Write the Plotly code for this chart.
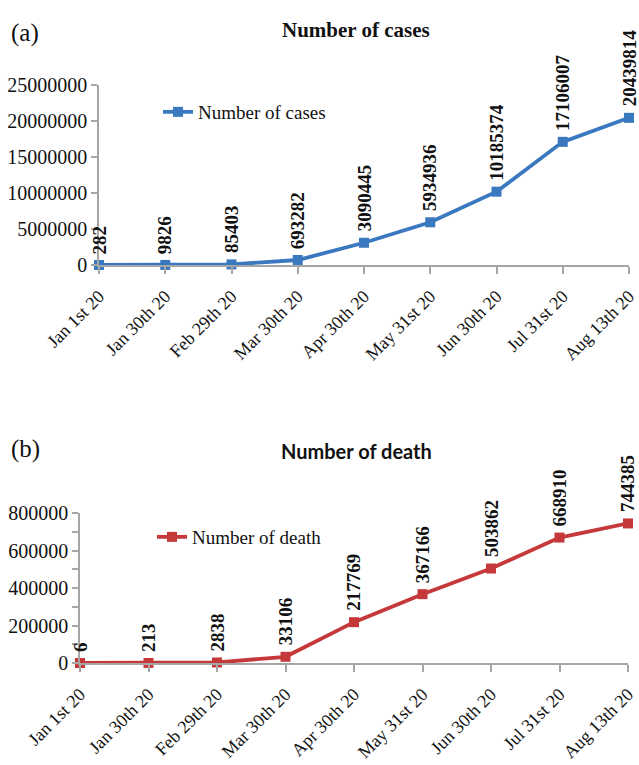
import plotly.graph_objects as go

# Monthly cumulative COVID-19 counts
dates = ["Jan 1st 20", "Jan 30th 20", "Feb 29th 20", "Mar 30th 20", "Apr 30th 20",
         "May 31st 20", "Jun 30th 20", "Jul 31st 20", "Aug 13th 20"]
cases = [282, 9826, 85403, 693282, 3090445, 5934936, 10185374, 17106007, 20439814]
deaths = [6, 213, 2838, 33106, 217769, 367166, 503862, 668910, 744385]

BLUE = "#3A78C0"
RED = "#C6393B"
AXIS_GRAY = "#A6A6A6"
SERIF = "Liberation Serif, Times New Roman, serif"
W, H = 639, 765

fig = go.Figure()

fig.add_trace(go.Scatter(
    x=dates, y=cases, mode="lines+markers", name="Number of cases",
    line=dict(color=BLUE, width=3.8),
    marker=dict(symbol="square", size=10, color=BLUE),
    cliponaxis=False, xaxis="x", yaxis="y", legend="legend",
))
fig.add_trace(go.Scatter(
    x=dates, y=deaths, mode="lines+markers", name="Number of death",
    line=dict(color=RED, width=3.8),
    marker=dict(symbol="square", size=10, color=RED),
    cliponaxis=False, xaxis="x2", yaxis="y2", legend="legend2",
))

annotations = []
# vertical value labels above each point
for xa, ya, vals in (("x", "y", cases), ("x2", "y2", deaths)):
    for i, v in enumerate(vals):
        annotations.append(dict(
            x=i, y=v, xref=xa, yref=ya, text=f"<b>{v}</b>", showarrow=False,
            textangle=-90, xanchor="center", yanchor="bottom", yshift=9,
            font=dict(family=SERIF, size=19, color="#111111"),
        ))

# panel letters and titles
annotations += [
    dict(x=9 / W, y=1 - 33 / H, xref="paper", yref="paper", text="(a)",
         showarrow=False, xanchor="left", yanchor="middle",
         font=dict(family=SERIF, size=25, color="#111111")),
    dict(x=9 / W, y=1 - 449 / H, xref="paper", yref="paper", text="(b)",
         showarrow=False, xanchor="left", yanchor="middle",
         font=dict(family=SERIF, size=25, color="#111111")),
    dict(x=356 / W, y=1 - 30 / H, xref="paper", yref="paper", text="<b>Number of cases</b>",
         showarrow=False, xanchor="center", yanchor="middle",
         font=dict(family=SERIF, size=21, color="#111111")),
    dict(x=356 / W, y=1 - 451 / H, xref="paper", yref="paper", text="<b>Number of death</b>",
         showarrow=False, xanchor="center", yanchor="middle",
         font=dict(family="Lato, Open Sans, sans-serif", size=20, color="#111111")),
]

xaxis_common = dict(
    type="category", range=[0, len(dates) - 1], showgrid=False, zeroline=False,
    showline=True, linecolor=AXIS_GRAY, linewidth=1.5, automargin=False,
    ticks="outside", ticklen=7, tickcolor=AXIS_GRAY, tickwidth=1.5,
    ticklabelstandoff=5,
    tickangle=-45, tickfont=dict(family=SERIF, size=18, color="#111111"),
)
yaxis_common = dict(
    showgrid=False, zeroline=False, showline=True, linecolor=AXIS_GRAY, linewidth=1.5,
    automargin=False,
    ticks="outside", ticklen=6, tickcolor=AXIS_GRAY, tickwidth=1.5,
    tickfont=dict(family=SERIF, size=20, color="#111111"), tickformat="d",
)

fig.update_layout(
    template="none",
    width=W, height=H, margin=dict(l=0, r=0, t=0, b=0, autoexpand=False),
    paper_bgcolor="white", plot_bgcolor="white",
    xaxis=dict(**xaxis_common, domain=[99 / W, 629 / W], anchor="y"),
    yaxis=dict(**yaxis_common, domain=[1 - 265 / H, 1 - 85 / H], anchor="x",
               range=[0, 25000000], dtick=5000000),
    xaxis2=dict(**xaxis_common, domain=[80 / W, 628 / W], anchor="y2"),
    yaxis2=dict(**yaxis_common, domain=[1 - 663 / H, 1 - 513 / H], anchor="x2",
                range=[0, 800000], dtick=200000,
                minor=dict(dtick=100000, ticks="outside", ticklen=6,
                           tickcolor=AXIS_GRAY, tickwidth=1.5)),
    legend=dict(x=158 / W, y=1 - 112 / H, xanchor="left", yanchor="middle",
                bgcolor="rgba(0,0,0,0)", font=dict(family=SERIF, size=19, color="#111111")),
    legend2=dict(x=152 / W, y=1 - 537 / H, xanchor="left", yanchor="middle",
                 bgcolor="rgba(0,0,0,0)", font=dict(family=SERIF, size=19, color="#111111")),
    annotations=annotations,
    showlegend=True,
)

fig.write_html("out.html")
